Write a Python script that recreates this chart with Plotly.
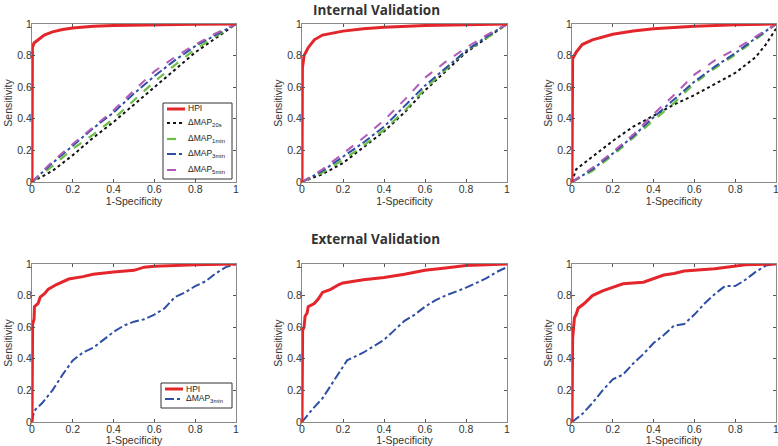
import plotly.graph_objects as go

# ---------------- data ----------------
tick_vals = [0, 0.2, 0.4, 0.6, 0.8, 1]
tick_text = ["0", "0.2", "0.4", "0.6", "0.8", "1"]

# Internal validation, panel 1
p1_hpi_x = [0, 0.002, 0.01, 0.03, 0.06, 0.1, 0.15, 0.2, 0.3, 0.4, 0.6, 0.8, 1]
p1_hpi_y = [0, 0.85, 0.88, 0.90, 0.93, 0.95, 0.965, 0.975, 0.985, 0.99, 0.995, 0.998, 1]
p1_map_x = [0, 0.1, 0.2, 0.3, 0.4, 0.5, 0.6, 0.7, 0.8, 0.9, 1]
p1_map20s_y = [0, 0.07, 0.17, 0.28, 0.38, 0.49, 0.60, 0.71, 0.82, 0.91, 1]
p1_map1min_y = [0, 0.10, 0.21, 0.30, 0.40, 0.52, 0.635, 0.74, 0.84, 0.92, 1]
p1_map3min_y = [0, 0.12, 0.23, 0.34, 0.44, 0.56, 0.67, 0.77, 0.86, 0.93, 1]
p1_map5min_y = [0, 0.13, 0.24, 0.35, 0.455, 0.58, 0.70, 0.79, 0.87, 0.94, 1]

# Internal validation, panel 2
p2_hpi_x = [0, 0.002, 0.01, 0.03, 0.06, 0.1, 0.2, 0.3, 0.4, 0.6, 0.8, 1]
p2_hpi_y = [0, 0.72, 0.80, 0.85, 0.90, 0.93, 0.955, 0.97, 0.98, 0.99, 0.995, 1]
p2_map_x = [0, 0.1, 0.2, 0.3, 0.4, 0.5, 0.6, 0.7, 0.8, 0.9, 1]
p2_map20s_y = [0, 0.05, 0.12, 0.22, 0.32, 0.44, 0.58, 0.70, 0.82, 0.91, 1]
p2_map1min_y = [0, 0.06, 0.14, 0.23, 0.33, 0.45, 0.59, 0.71, 0.83, 0.91, 1]
p2_map3min_y = [0, 0.07, 0.16, 0.25, 0.35, 0.48, 0.61, 0.72, 0.83, 0.92, 1]
p2_map5min_y = [0, 0.08, 0.18, 0.28, 0.39, 0.52, 0.66, 0.76, 0.85, 0.93, 1]

# Internal validation, panel 3
p3_hpi_x = [0, 0.003, 0.02, 0.05, 0.1, 0.2, 0.3, 0.4, 0.6, 0.8, 1]
p3_hpi_y = [0, 0.78, 0.82, 0.87, 0.90, 0.935, 0.955, 0.97, 0.985, 0.995, 1]
p3_map_x = [0, 0.1, 0.2, 0.3, 0.4, 0.5, 0.6, 0.7, 0.8, 0.9, 1]
p3_map20s_x = [0, 0.02, 0.1, 0.2, 0.3, 0.4, 0.5, 0.6, 0.7, 0.8, 0.9, 0.95, 1]
p3_map20s_y = [0, 0.08, 0.16, 0.26, 0.35, 0.42, 0.49, 0.55, 0.62, 0.69, 0.79, 0.87, 0.97]
p3_map1min_y = [0, 0.07, 0.17, 0.28, 0.39, 0.50, 0.625, 0.72, 0.805, 0.90, 1]
p3_map3min_y = [0, 0.08, 0.18, 0.29, 0.41, 0.52, 0.635, 0.73, 0.815, 0.91, 1]
p3_map5min_y = [0, 0.09, 0.19, 0.30, 0.43, 0.55, 0.68, 0.77, 0.84, 0.92, 1]

# External validation, panel 4
p4_hpi_x = [0, 0.003, 0.01, 0.012, 0.03, 0.04, 0.06, 0.08, 0.12, 0.18, 0.25, 0.3, 0.4, 0.5, 0.55, 0.6, 0.8, 1]
p4_hpi_y = [0, 0.62, 0.65, 0.73, 0.75, 0.79, 0.81, 0.84, 0.87, 0.905, 0.92, 0.935, 0.95, 0.96, 0.98, 0.985, 0.995, 1]
p4_map_x = [0, 0.01, 0.05, 0.1, 0.15, 0.2, 0.25, 0.3, 0.35, 0.4, 0.45, 0.5, 0.55, 0.6, 0.65, 0.7, 0.75, 0.8, 0.85, 0.9, 0.95, 1]
p4_map_y = [0, 0.07, 0.12, 0.20, 0.30, 0.39, 0.44, 0.47, 0.52, 0.57, 0.61, 0.635, 0.65, 0.68, 0.72, 0.79, 0.82, 0.86, 0.89, 0.94, 0.98, 1]

# External validation, panel 5
p5_hpi_x = [0, 0.003, 0.01, 0.015, 0.025, 0.03, 0.06, 0.08, 0.1, 0.14, 0.18, 0.2, 0.3, 0.4, 0.5, 0.6, 0.7, 0.8, 0.9, 1]
p5_hpi_y = [0, 0.58, 0.60, 0.67, 0.69, 0.73, 0.75, 0.78, 0.82, 0.84, 0.87, 0.88, 0.90, 0.915, 0.935, 0.96, 0.975, 0.99, 0.995, 1]
p5_map_x = [0, 0.05, 0.1, 0.15, 0.2, 0.22, 0.3, 0.4, 0.45, 0.5, 0.55, 0.6, 0.65, 0.7, 0.8, 0.9, 0.95, 1]
p5_map_y = [0, 0.08, 0.15, 0.25, 0.35, 0.39, 0.44, 0.52, 0.58, 0.64, 0.68, 0.73, 0.77, 0.80, 0.85, 0.91, 0.95, 0.98]

# External validation, panel 6
p6_hpi_x = [0, 0.003, 0.008, 0.012, 0.02, 0.03, 0.06, 0.1, 0.15, 0.2, 0.25, 0.35, 0.4, 0.45, 0.5, 0.55, 0.7, 0.8, 0.85, 1]
p6_hpi_y = [0, 0.53, 0.60, 0.66, 0.68, 0.72, 0.75, 0.80, 0.83, 0.855, 0.875, 0.885, 0.91, 0.93, 0.94, 0.955, 0.97, 0.985, 0.995, 1]
p6_map_x = [0, 0.05, 0.1, 0.15, 0.2, 0.25, 0.3, 0.35, 0.4, 0.45, 0.5, 0.55, 0.6, 0.65, 0.7, 0.75, 0.8, 0.85, 0.9, 0.95, 1]
p6_map_y = [0, 0.05, 0.12, 0.20, 0.27, 0.30, 0.37, 0.43, 0.50, 0.55, 0.61, 0.62, 0.68, 0.75, 0.81, 0.86, 0.86, 0.90, 0.95, 0.99, 1]

# legend labels
legend_top_names = ["HPI", "ΔMAP<sub>20s</sub>", "ΔMAP<sub>1min</sub>", "ΔMAP<sub>3min</sub>", "ΔMAP<sub>5min</sub>"]
legend_bot_names = ["HPI", "ΔMAP<sub>3min</sub>"]

# ---------------- styles ----------------
RED = "#e3262b"
BLACK = "#111111"
GREEN = "#6cbd45"
BLUE = "#2e4fa3"
MAGENTA = "#b15bb8"
STY_HPI = (RED, 3, "solid")
STY_20 = (BLACK, 2, "dot")
STY_1 = (GREEN, 2.2, "dash")
STY_3 = (BLUE, 2, "dashdot")
STY_5 = (MAGENTA, 2, "dash")

W, H = 778, 446
fig = go.Figure()

x_domains = [(32 / W, 236 / W), (302 / W, 507 / W), (572 / W, 776 / W)]
y_top = (1 - 182 / H, 1 - 24 / H)
y_bot = (1 - 422 / H, 1 - 264 / H)


def add(ax, x, y, name, sty):
    color, width, dash = sty
    fig.add_trace(go.Scatter(
        x=x, y=y, mode="lines", name=name,
        line=dict(color=color, width=width, dash=dash),
        xaxis="x" + ("" if ax == 1 else str(ax)),
        yaxis="y" + ("" if ax == 1 else str(ax)),
        showlegend=False,
    ))


internal = [
    (p1_hpi_x, p1_hpi_y, p1_map_x, p1_map_x, p1_map20s_y, p1_map1min_y, p1_map3min_y, p1_map5min_y),
    (p2_hpi_x, p2_hpi_y, p2_map_x, p2_map_x, p2_map20s_y, p2_map1min_y, p2_map3min_y, p2_map5min_y),
    (p3_hpi_x, p3_hpi_y, p3_map_x, p3_map20s_x, p3_map20s_y, p3_map1min_y, p3_map3min_y, p3_map5min_y),
]
for i, (hx, hy, mx, m20x, m20, m1, m3, m5) in enumerate(internal):
    ax = i + 1
    add(ax, m20x, m20, legend_top_names[1], STY_20)
    add(ax, mx, m1, legend_top_names[2], STY_1)
    add(ax, mx, m3, legend_top_names[3], STY_3)
    add(ax, mx, m5, legend_top_names[4], STY_5)
    add(ax, hx, hy, legend_top_names[0], STY_HPI)

external = [
    (p4_hpi_x, p4_hpi_y, p4_map_x, p4_map_y),
    (p5_hpi_x, p5_hpi_y, p5_map_x, p5_map_y),
    (p6_hpi_x, p6_hpi_y, p6_map_x, p6_map_y),
]
for i, (hx, hy, mx, my) in enumerate(external):
    ax = i + 4
    add(ax, mx, my, legend_bot_names[1], STY_3)
    add(ax, hx, hy, legend_bot_names[0], STY_HPI)

axis_common = dict(
    range=[0, 1], tickvals=tick_vals, ticktext=tick_text,
    showline=True, linecolor="#8a8a8a", linewidth=1, mirror="ticks",
    ticks="inside", ticklen=3, tickcolor="#555555",
    showgrid=False, zeroline=False, fixedrange=True, automargin=False,
    ticklabeloverflow="allow",
    tickfont=dict(family="Liberation Sans, Arial", size=10.5, color="#333333"),
    title_font=dict(family="Liberation Sans, Arial", size=10.5, color="#333333"),
)

layout = {}
for k in range(6):
    n = k + 1
    suffix = "" if n == 1 else str(n)
    xd = x_domains[k % 3]
    yd = y_top if k < 3 else y_bot
    layout["xaxis" + suffix] = dict(axis_common, domain=list(xd), anchor="y" + suffix,
                                    ticklabelstandoff=-3,
                                    title=dict(text="1-Specificity", standoff=0))
    layout["yaxis" + suffix] = dict(axis_common, domain=list(yd), anchor="x" + suffix,
                                    ticklabelstandoff=-3,
                                    title=dict(text="Sensitivity", standoff=2))
fig.update_layout(**layout)

# ---------------- manual legends (sized like the original) ----------------
shapes = []
annotations = []


def legend_box(x0, y0, x1, y1, rows, names, styles, font_size):
    shapes.append(dict(type="rect", xref="paper", yref="paper",
                       x0=x0 / W, x1=x1 / W, y0=1 - y1 / H, y1=1 - y0 / H,
                       line=dict(color="#333333", width=1), fillcolor="white", layer="above"))
    for yc, name, (color, width, dash) in zip(rows, names, styles):
        shapes.append(dict(type="line", xref="paper", yref="paper",
                           x0=(x0 + 4) / W, x1=(x0 + 22) / W, y0=1 - yc / H, y1=1 - yc / H,
                           line=dict(color=color, width=width, dash=dash), layer="above"))
        annotations.append(dict(text=name, x=(x0 + 23) / W, y=1 - (yc - 0.5) / H,
                                xref="paper", yref="paper", showarrow=False,
                                xanchor="left", yanchor="middle",
                                font=dict(family="Liberation Sans, Arial", size=font_size,
                                          color="#222222")))


legend_box(163, 103, 232, 179, [109, 123, 139, 154, 170], legend_top_names,
           [STY_HPI, STY_20, STY_1, STY_3, STY_5], 8.5)
legend_box(161, 383, 232, 408, [389, 399], legend_bot_names, [STY_HPI, STY_3], 8.5)

annotations += [
    dict(text="<b>Internal Validation</b>", x=376 / W, y=1 - 10 / H,
         xref="paper", yref="paper", showarrow=False, yanchor="middle",
         font=dict(family="Open Sans", size=13.5, color="#333333")),
    dict(text="<b>External Validation</b>", x=375 / W, y=1 - 239 / H,
         xref="paper", yref="paper", showarrow=False, yanchor="middle",
         font=dict(family="Open Sans", size=13.5, color="#333333")),
]

fig.update_layout(
    width=W, height=H,
    margin=dict(l=0, r=0, t=0, b=0),
    paper_bgcolor="white", plot_bgcolor="white",
    showlegend=False,
    shapes=shapes,
    annotations=annotations,
)

fig.write_html("out.html", config={"displayModeBar": False},
               post_script="document.body.style.margin='0';document.body.style.padding='0';")
